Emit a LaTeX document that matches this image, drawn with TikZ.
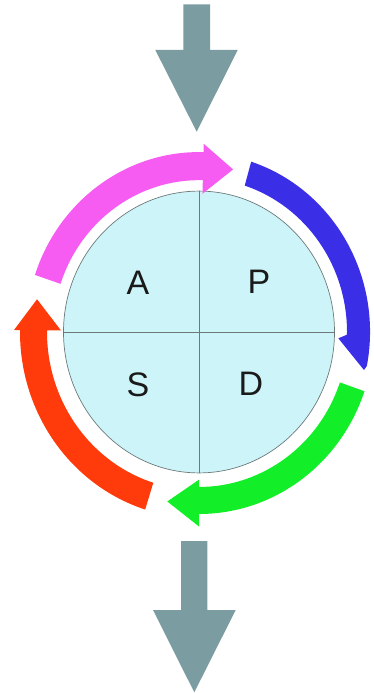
\documentclass[tikz,border=0pt]{standalone}
\usepackage{fontspec}
\setmainfont{Liberation Sans}
\definecolor{flowgray}{HTML}{7B9CA1}
\definecolor{cmag}{HTML}{F65CF2}
\definecolor{cblue}{HTML}{3A2EE6}
\definecolor{cgreen}{HTML}{12EE28}
\definecolor{cred}{HTML}{FF3B0B}
\definecolor{cfill}{HTML}{CDF5F9}
\definecolor{cline}{HTML}{6E7A7A}
\definecolor{ctext}{HTML}{1A1A1A}
\tikzset{
  flowarrow/.style={fill=flowgray, draw=none},
  letter/.style={inner sep=0pt, font=\fontsize{34}{34}\selectfont, text=ctext}
}
\begin{document}
\begin{tikzpicture}[x=1pt,y=-1pt]
\useasboundingbox (0,0) rectangle (374,693);
% top arrow
\fill[flowarrow] (183.3,4.3) -- (210,4.3) -- (210,50) -- (237.7,50) -- (196.7,131.7) -- (155.3,50) -- (183.3,50) -- cycle;
% bottom arrow
\fill[flowarrow] (181,541) -- (207.3,541) -- (207.3,610) -- (235.7,610) -- (194.3,692.3) -- (153,610) -- (181,610) -- cycle;
\begin{scope}[shift={(199,332)}, yscale=1.04]
  % circle
  \draw[fill=cfill, draw=cline, line width=0.7pt] (0pt,0pt) circle[radius=135.5pt];
  \draw[cline, line width=0.7pt] (90:135.5pt) -- (-90:135.5pt);
  \draw[cline, line width=0.7pt] (180:135.5pt) -- (0:135.5pt);
  % magenta
  \fill[cmag] (161.5:146pt) arc[start angle=161.5, end angle=88.5, radius=146pt]
    -- (88.5:133pt) -- (77.7:160pt) -- (88.5:181pt) -- (88.5:173pt)
    arc[start angle=88.5, end angle=161.5, radius=173pt] -- cycle;
  % blue
  \fill[cblue] (72:148pt) arc[start angle=72, end angle=-1, radius=148pt]
    -- (-2.5:139.5pt) -- (-12.5:169pt) -- (-11:171pt)
    arc[start angle=-11, end angle=72, radius=172pt] -- cycle;
  % green
  \fill[cgreen] (-19:175pt) arc[start angle=-19, end angle=-90, radius=175pt]
    -- (-90:187pt) -- (-101:166pt) -- (-90:142pt) -- (-90:149pt)
    arc[start angle=-90, end angle=-19, radius=149pt] -- cycle;
  % red
  \fill[cred] (-107.5:152pt) arc[start angle=-107.5, end angle=-180.6, radius=152pt]
    -- (-180.6:138pt) -- (-191:165pt) -- (-180.6:185pt) -- (-180.6:179pt)
    arc[start angle=-180.6, end angle=-107.5, radius=179pt] -- cycle;
\end{scope}
\node[letter] (A) at (138,282.5) {A};
\node[letter] (P) at (259,282) {P};
\node[letter] (S) at (138,385) {S};
\node[letter] (D) at (251,384) {D};
\end{tikzpicture}
\end{document}
